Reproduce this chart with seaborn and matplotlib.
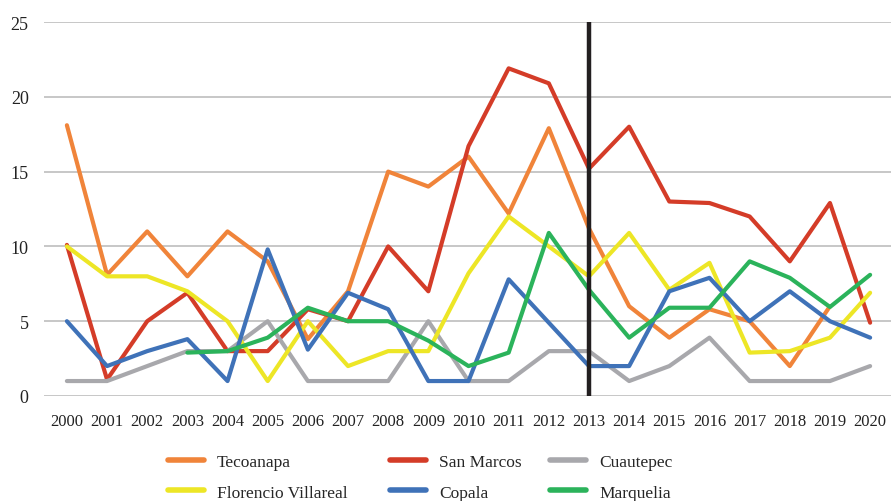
import numpy as np
import pandas as pd
import matplotlib
matplotlib.use("Agg")
import matplotlib.pyplot as plt
import seaborn as sns
from matplotlib.lines import Line2D

years = list(range(2000, 2021))
tecoanapa = [18.1, 8.1, 11, 8, 11, 9, 3.8, 7, 15, 14, 16, 12.2, 17.9, 11.2, 6, 3.9, 5.8, 5, 2, 6, np.nan]
san_marcos = [10.1, 1.1, 5, 6.9, 3, 3, 5.8, 5, 10, 7, 16.7, 21.9, 20.9, 15.2, 18, 13, 12.9, 12, 9, 12.9, 4.9]
cuautepec = [1, 1, 2, 3, 3, 5, 1, 1, 1, 5, 1, 1, 3, 3, 1, 2, 3.9, 1, 1, 1, 2]
florencio = [10, 8, 8, 7, 5, 1, 5, 2, 3, 3, 8.2, 12, 10, 8, 10.9, 7.1, 8.9, 2.9, 3, 3.9, 6.9]
copala = [5, 2, 3, 3.8, 1, 9.8, 3.1, 6.9, 5.8, 1, 1, 7.8, 4.9, 2, 2, 7, 7.9, 5, 7, 5, 3.9]
marquelia = [np.nan, np.nan, np.nan, 2.9, 3, 3.9, 5.9, 5, 5, 3.7, 2, 2.9, 10.9, 7.1, 3.9, 5.9, 5.9, 9, 7.9, 5.95, 8.1]

names = ["Tecoanapa", "San Marcos", "Cuautepec", "Florencio Villareal", "Copala", "Marquelia"]
series = [tecoanapa, san_marcos, cuautepec, florencio, copala, marquelia]
colors = ["#F0843A", "#D43C28", "#A8A8AC", "#EDE626", "#3F72B8", "#2BB35B"]

df = pd.DataFrame({"year": years})
for n, s in zip(names, series):
    df[n] = s
long = df.melt(id_vars="year", var_name="municipio", value_name="valor").dropna()

sns.set_style("white")
plt.rcParams["font.family"] = ["Liberation Serif", "DejaVu Serif"]

fig = plt.figure(figsize=(8.91, 5.02), dpi=100)
ax = fig.add_axes([44 / 891, 1 - 397 / 502, 847 / 891, 374 / 502])

sns.lineplot(data=long, x="year", y="valor", hue="municipio", hue_order=names,
             palette=colors, linewidth=3.0, estimator=None, sort=False, ax=ax, legend=False)

# 2013 marker line
ax.axvline(2013, color="#231F20", linewidth=3.2, zorder=5)

ax.set_xlim(2000 - 0.57, 2020.52)
ax.set_ylim(0, 25)
ax.set_yticks([0, 5, 10, 15, 20, 25])
ax.set_xticks(years)
ax.set_xticklabels([str(y) for y in years], fontsize=12, color="#222222")
ax.set_yticklabels(["0", "5", "10", "15", "20", "25"], fontsize=13, color="#222222")
ax.yaxis.grid(True, color="#BDBDBD", linewidth=1.2)
ax.set_axisbelow(True)
for sp in ax.spines.values():
    sp.set_visible(False)
ax.tick_params(axis="both", length=0)
ax.tick_params(axis="x", pad=12)
ax.tick_params(axis="y", pad=11)
ax.set_xlabel("")
ax.set_ylabel("")

# legend: one two-row block per column, spaced like the reference
col_x = [152, 374, 534]
for c in range(3):
    idx = [c, c + 3]
    handles = [Line2D([0], [0], color=colors[i], lw=4, solid_capstyle="round") for i in idx]
    labels = [names[i] for i in idx]
    fig.legend(handles, labels, ncol=1, loc="center left", bbox_to_anchor=(col_x[c] / 891, 1 - 478 / 502),
               frameon=False, fontsize=12.5, handlelength=2.1, handletextpad=0.75,
               labelspacing=0.85)

fig.savefig("out.png", dpi=100)
